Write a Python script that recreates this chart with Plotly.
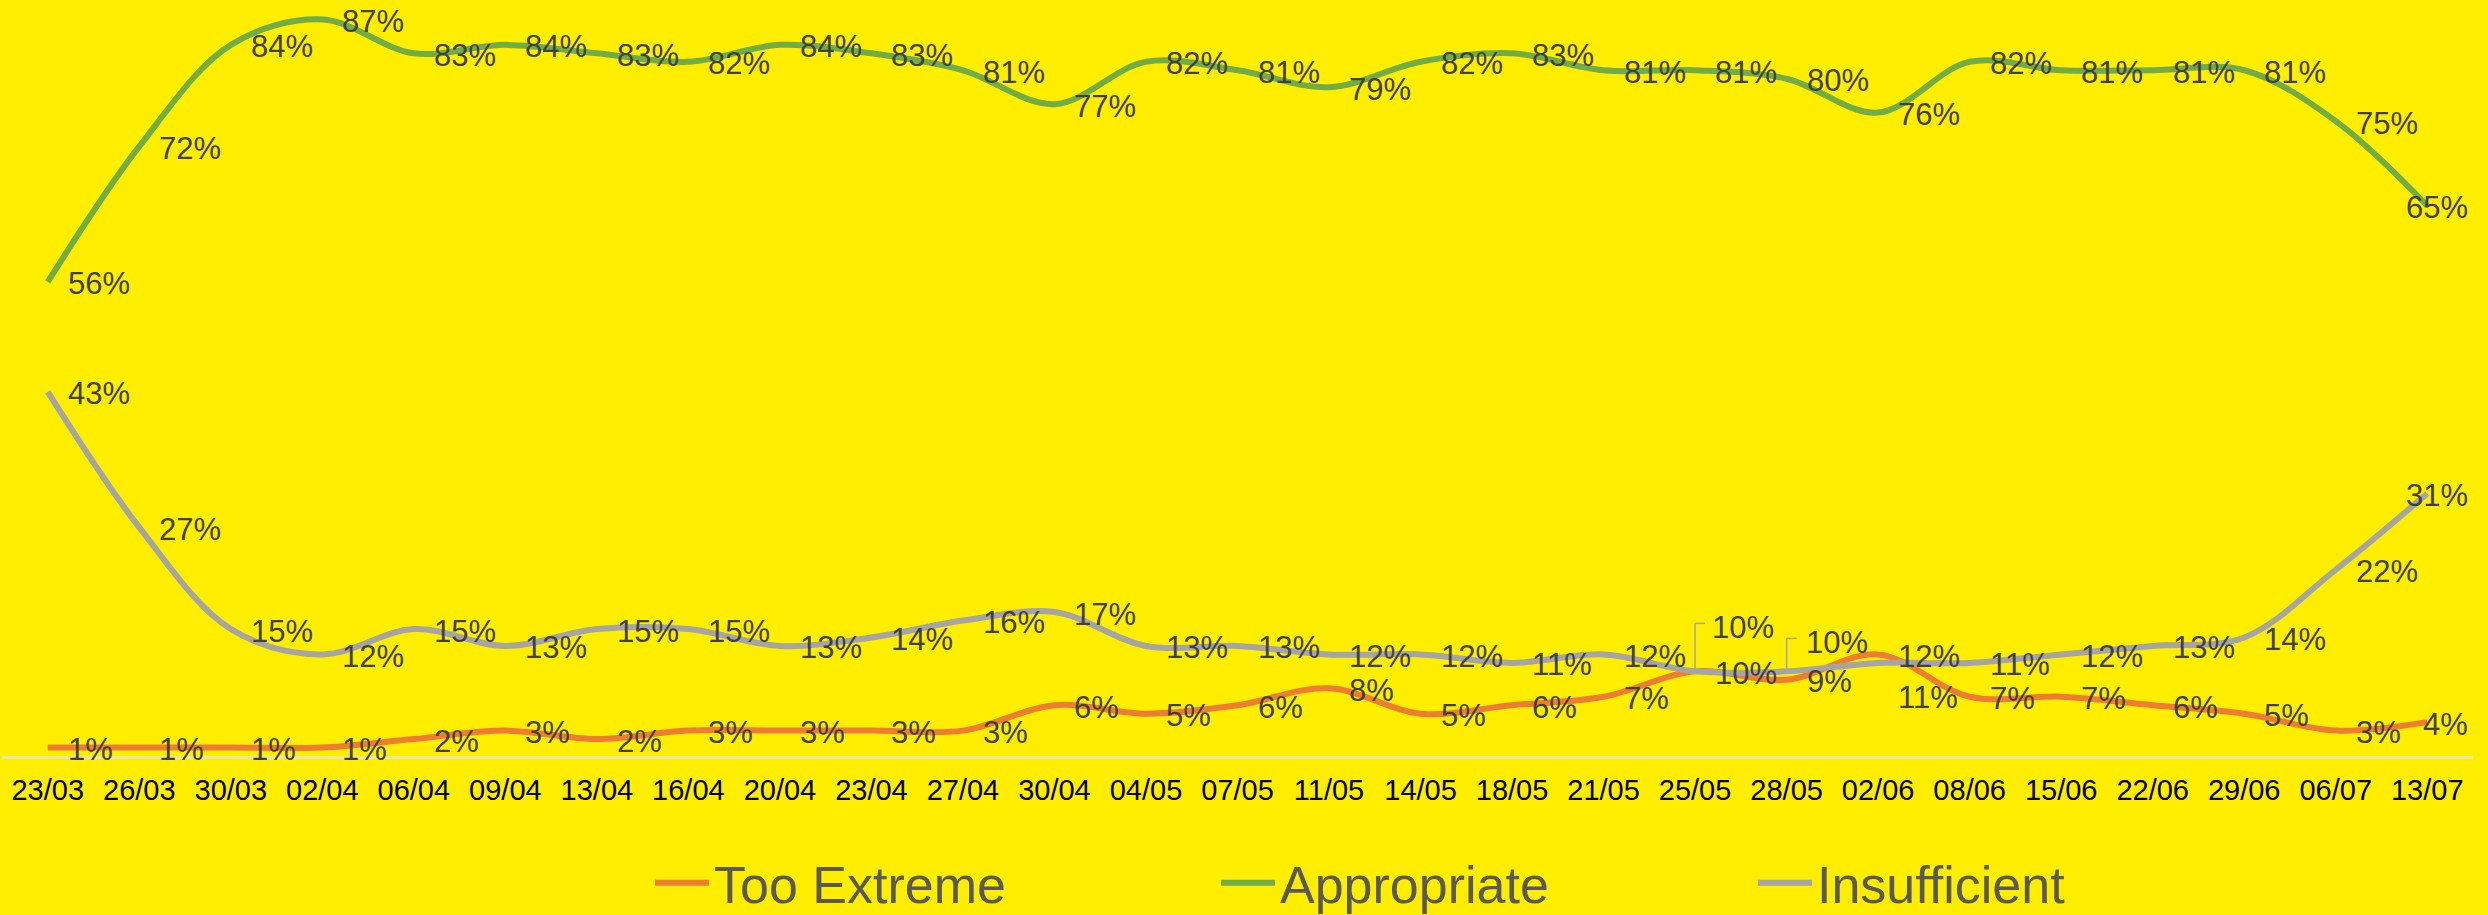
import plotly.graph_objects as go

categories = ["23/03", "26/03", "30/03", "02/04", "06/04", "09/04", "13/04", "16/04", "20/04",
              "23/04", "27/04", "30/04", "04/05", "07/05", "11/05", "14/05", "18/05", "21/05",
              "25/05", "28/05", "02/06", "08/06", "15/06", "22/06", "29/06", "06/07", "13/07"]
too_extreme = [1, 1, 1, 1, 2, 3, 2, 3, 3, 3, 3, 6, 5, 6, 8, 5, 6, 7, 10, 9, 12, 7, 7, 6, 5, 3, 4]
appropriate = [56, 72, 84, 87, 83, 84, 83, 82, 84, 83, 81, 77, 82, 81, 79, 82, 83, 81, 81, 80, 76,
               82, 81, 81, 81, 75, 65]
insufficient = [43, 27, 15, 12, 15, 13, 15, 15, 13, 14, 16, 17, 13, 13, 12, 12, 11, 12, 10, 10, 11,
                11, 12, 13, 14, 22, 31]

FONT = "Liberation Sans, Arial, sans-serif"
BG = "#FFEE00"
series = [
    ("Too Extreme", too_extreme, "#ED7D31", "legend"),
    ("Appropriate", appropriate, "#70AD47", "legend2"),
    ("Insufficient", insufficient, "#A5A5A5", "legend3"),
]

fig = go.Figure()
for name, vals, color, lg in series:
    fig.add_trace(go.Scatter(
        x=categories, y=vals, name=name, mode="lines",
        line=dict(color=color, width=6, shape="spline", smoothing=1.0),
        legend=lg, hoverinfo="skip",
    ))

# label placement tweaks (pixel offsets) for crowded points
special = {
    ("Insufficient", 18): dict(xshift=15, yshift=44),
    ("Insufficient", 19): dict(xshift=17, yshift=29),
    ("Insufficient", 20): dict(yshift=-35),
}
annotations = []
last = len(categories) - 1
for name, vals, color, lg in series:
    for i, (c, v) in enumerate(zip(categories, vals)):
        a = dict(x=c, y=v, xref="x", yref="y", text=f"{v}%", showarrow=False,
                 xanchor="left", yanchor="middle", xshift=18, yshift=-2,
                 font=dict(family=FONT, size=31, color="#404040"))
        if i == last:
            a.update(xanchor="right", xshift=43)
        if (name, i) in special:
            a.update(special[(name, i)])
        annotations.append(a)

shapes = []
for idx, top in ((18, 48), (19, 33)):
    c = categories[idx]
    v = insufficient[idx]
    shapes.append(dict(type="line", xref="x", yref="y", xsizemode="pixel", ysizemode="pixel",
                       xanchor=c, yanchor=v, x0=0, x1=0, y0=3, y1=top,
                       line=dict(color="#A5A5A5", width=1.5)))
    shapes.append(dict(type="line", xref="x", yref="y", xsizemode="pixel", ysizemode="pixel",
                       xanchor=c, yanchor=v, x0=0, x1=10, y0=top, y1=top,
                       line=dict(color="#A5A5A5", width=1.5)))

W, H = 2488, 915
ml, mr, mt, mb = 2, 15, 0, 159
pw = W - ml - mr


def lx(px):
    return (px - ml) / pw


legend_common = dict(orientation="h", yanchor="middle", xanchor="left",
                     yref="container", y=1 - 883 / H,
                     itemwidth=54,
                     bgcolor="rgba(0,0,0,0)", font=dict(family=FONT, size=52, color="#595959"))

fig.update_layout(
    width=W, height=H, autosize=False,
    margin=dict(l=ml, r=mr, t=mt, b=mb, pad=0, autoexpand=False),
    paper_bgcolor=BG, plot_bgcolor=BG,
    font=dict(family=FONT),
    annotations=annotations,
    shapes=shapes,
    showlegend=True,
    legend=dict(x=lx(650), **legend_common),
    legend2=dict(x=lx(1216), **legend_common),
    legend3=dict(x=lx(1753), **legend_common),
    xaxis=dict(type="category", categoryorder="array", categoryarray=categories,
               range=[-0.5, len(categories) - 0.5], showgrid=False, zeroline=False,
               showline=True, linecolor="#E9E5B0", linewidth=3, ticks="",
               ticklabelstandoff=6, automargin=False,
               tickfont=dict(family=FONT, size=29, color="#000000"), fixedrange=True),
    yaxis=dict(range=[0, 89.3], visible=False, fixedrange=True, automargin=False),
)

fig.write_html(
    "out.html", include_plotlyjs=True, config={"displayModeBar": False},
    post_script="document.body.style.margin='0';document.body.style.background='%s';" % BG,
)
